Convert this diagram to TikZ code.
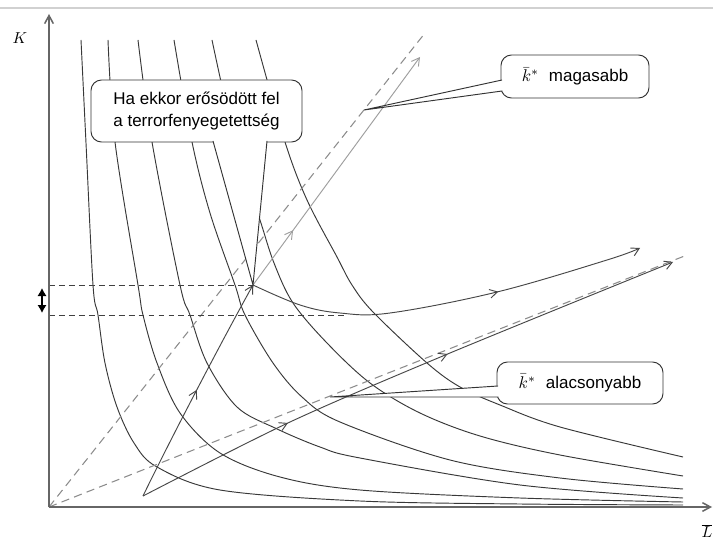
\documentclass[tikz,border=0pt]{standalone}
\usepackage{graphicx}
\usepackage{fontspec}
\setmainfont{Liberation Sans}
\usetikzlibrary{arrows.meta, calc, decorations.markings, positioning}
\newcommand{\kstar}{\scalebox{1.45}{\normalsize$\bar{k}^{*}$}}
\tikzset{
	barb/.tip={Straight Barb[length=2.3mm, width=2.6mm]},
	isoquant/.style={draw=black!78, line width=0.8pt},
	axis/.style={draw=black!60, line width=1.3pt, -{Straight Barb[length=2.4mm, width=2.6mm]}},
	rayline/.style={draw=black!45, line width=0.9pt, dash pattern=on 7pt off 4.5pt},
	levelline/.style={draw=black!75, line width=0.6pt, dash pattern=on 5pt off 3.5pt},
	pathline/.style={draw=black!72, line width=0.8pt},
	grayline/.style={draw=black!38, line width=0.8pt},
	midarrow/.style={postaction={decorate}, decoration={markings,
		mark=at position #1 with {\arrow{barb}}}},
	bubble/.style={rectangle, rounded corners=9pt, draw=black!80, fill=white,
		line width=0.8pt, inner sep=0pt, align=center,
		font=\fontsize{14.5}{18.5}\selectfont},
	pointer/.style={draw=black!80, line width=0.8pt}
}

\begin{document}
\begin{tikzpicture}[x=0.03cm, y=-0.03cm]
	\useasboundingbox (0,0) rectangle (713,544);
	\fill[white] (0,0) rectangle (713,544);
	\draw[black!18, line width=1.2pt] (0,8) -- (713,8);

	% key points
	\coordinate (O) at (49,507);
	\coordinate (ytop) at (49,14);
	\coordinate (xend) at (712,507);
	\coordinate (s0) at (143,496);
	\coordinate (sh) at (253,285);
	\coordinate (lo) at (345,315);
	\coordinate (hi) at (420,57);
	\coordinate (r1) at (425,33);
	\coordinate (r2) at (687,255);
	\coordinate (e2) at (673,262);
	\coordinate (e3) at (640,248);
	\coordinate (tipA) at (364,110);
	\coordinate (tipB) at (330,397);

	% isoquants
	\draw[isoquant] plot[smooth, tension=0.55] coordinates {(81,40) (86,143) (93,285) (98,315) (105,363) (117,407) (134,443) (157,467) (220,490) (360,501) (520,504) (683,505)};
	\draw[isoquant] plot[smooth, tension=0.55] coordinates {(108,40) (115,142) (138,285) (143,315) (157,363) (180,413) (220,453) (280,477) (360,490) (520,498) (683,502)};
	\draw[isoquant] plot[smooth, tension=0.55] coordinates {(138,40) (152,142) (180,285) (190,315) (207,363) (237,407) (275,428) (320,447) (360,458) (520,485) (683,498)};
	\draw[isoquant] plot[smooth, tension=0.55] coordinates {(174,40) (192,142) (210,213) (235,285) (245,315) (273,363) (302,397) (340,422) (450,460) (560,478) (683,489)};
	\draw[isoquant] plot[smooth, tension=0.55] coordinates {(212,40) (235,142) (260,220) (274,263) (293,303) (327,343) (370,383) (420,413) (480,436) (560,455) (683,476)};
	\draw[isoquant] plot[smooth, tension=0.55] coordinates {(256,40) (285,142) (307,200) (337,257) (352,285) (373,312) (427,363) (460,387) (500,405) (560,427) (683,457)};

	% rays
	\draw[rayline] (O) -- (r1);
	\draw[rayline] (O) -- (r2);

	% adjustment paths
	\draw[pathline, midarrow=0.5, -barb] (s0) .. controls (170,440) and (225,335) .. (sh);
	\draw[grayline, midarrow=0.24, -barb] (sh) -- (hi);
	\draw[pathline, -barb, postaction={decorate}, decoration={markings,
		mark=at position 0.28 with {\arrow{barb}},
		mark=at position 0.58 with {\arrow{barb}}}]
		plot[smooth] coordinates {(s0) (290,422) (450,353) (e2)};
	\draw[pathline, midarrow=0.63, -barb]
		plot[smooth, tension=0.6] coordinates {(sh) (300,305) (340,313) (390,313) (497,292) (607,260) (e3)};

	% levels
	\draw[levelline] (O |- sh) -- (sh);
	\draw[levelline] (O |- lo) -- (lo);
	\coordinate (dtop) at (42,288);
	\coordinate (dbot) at (42,313);
	\draw[{Latex[length=2.4mm, width=2.8mm]}-{Latex[length=2.4mm, width=2.8mm]}, line width=1.2pt] (dtop) -- (dbot);

	% axes
	\draw[axis] (O) -- (ytop);
	\draw[axis] (O) -- (xend);
	\node (K) at (20,38) {\scalebox{1.35}{\normalsize$K$}};
	\node (L) at (707,531) {\scalebox{1.35}{\normalsize$\overline{L}$}};

	% callouts
	\node[bubble, minimum width=6.33cm, minimum height=1.86cm] (terror) at (196.5,111)
	{Ha ekkor erősödött fel\\a terrorfenyegetettség};
	\coordinate (t1) at ($(terror.south)+(16.5,-1.5)$);
	\coordinate (t2) at ($(terror.south)+(70.5,-1.5)$);
	\fill[white] (t1) -- (sh) -- (t2) -- cycle;
	\draw[pointer] (t1) -- (sh) -- (t2);

	\node[bubble, minimum width=4.44cm, minimum height=1.29cm] (high) at (575,76.5)
	{\kstar\hspace{0.3cm}magasabb};
	\coordinate (h1) at ($(high.west)+(1.5,3.5)$);
	\coordinate (h2) at ($(high.west)+(1.5,14.5)$);
	\fill[white] (h1) -- (tipA) -- (h2) -- cycle;
	\draw[pointer] (h1) -- (tipA) -- (h2);

	\node[bubble, minimum width=4.98cm, minimum height=1.26cm] (low) at (580,383)
	{\kstar\hspace{0.3cm}alacsonyabb};
	\coordinate (l1) at ($(low.west)+(1.5,3)$);
	\coordinate (l2) at ($(low.west)+(1.5,14)$);
	\fill[white] (l1) -- (tipB) -- (l2) -- cycle;
	\draw[pointer] (l1) -- (tipB) -- (l2);
\end{tikzpicture}
\end{document}
